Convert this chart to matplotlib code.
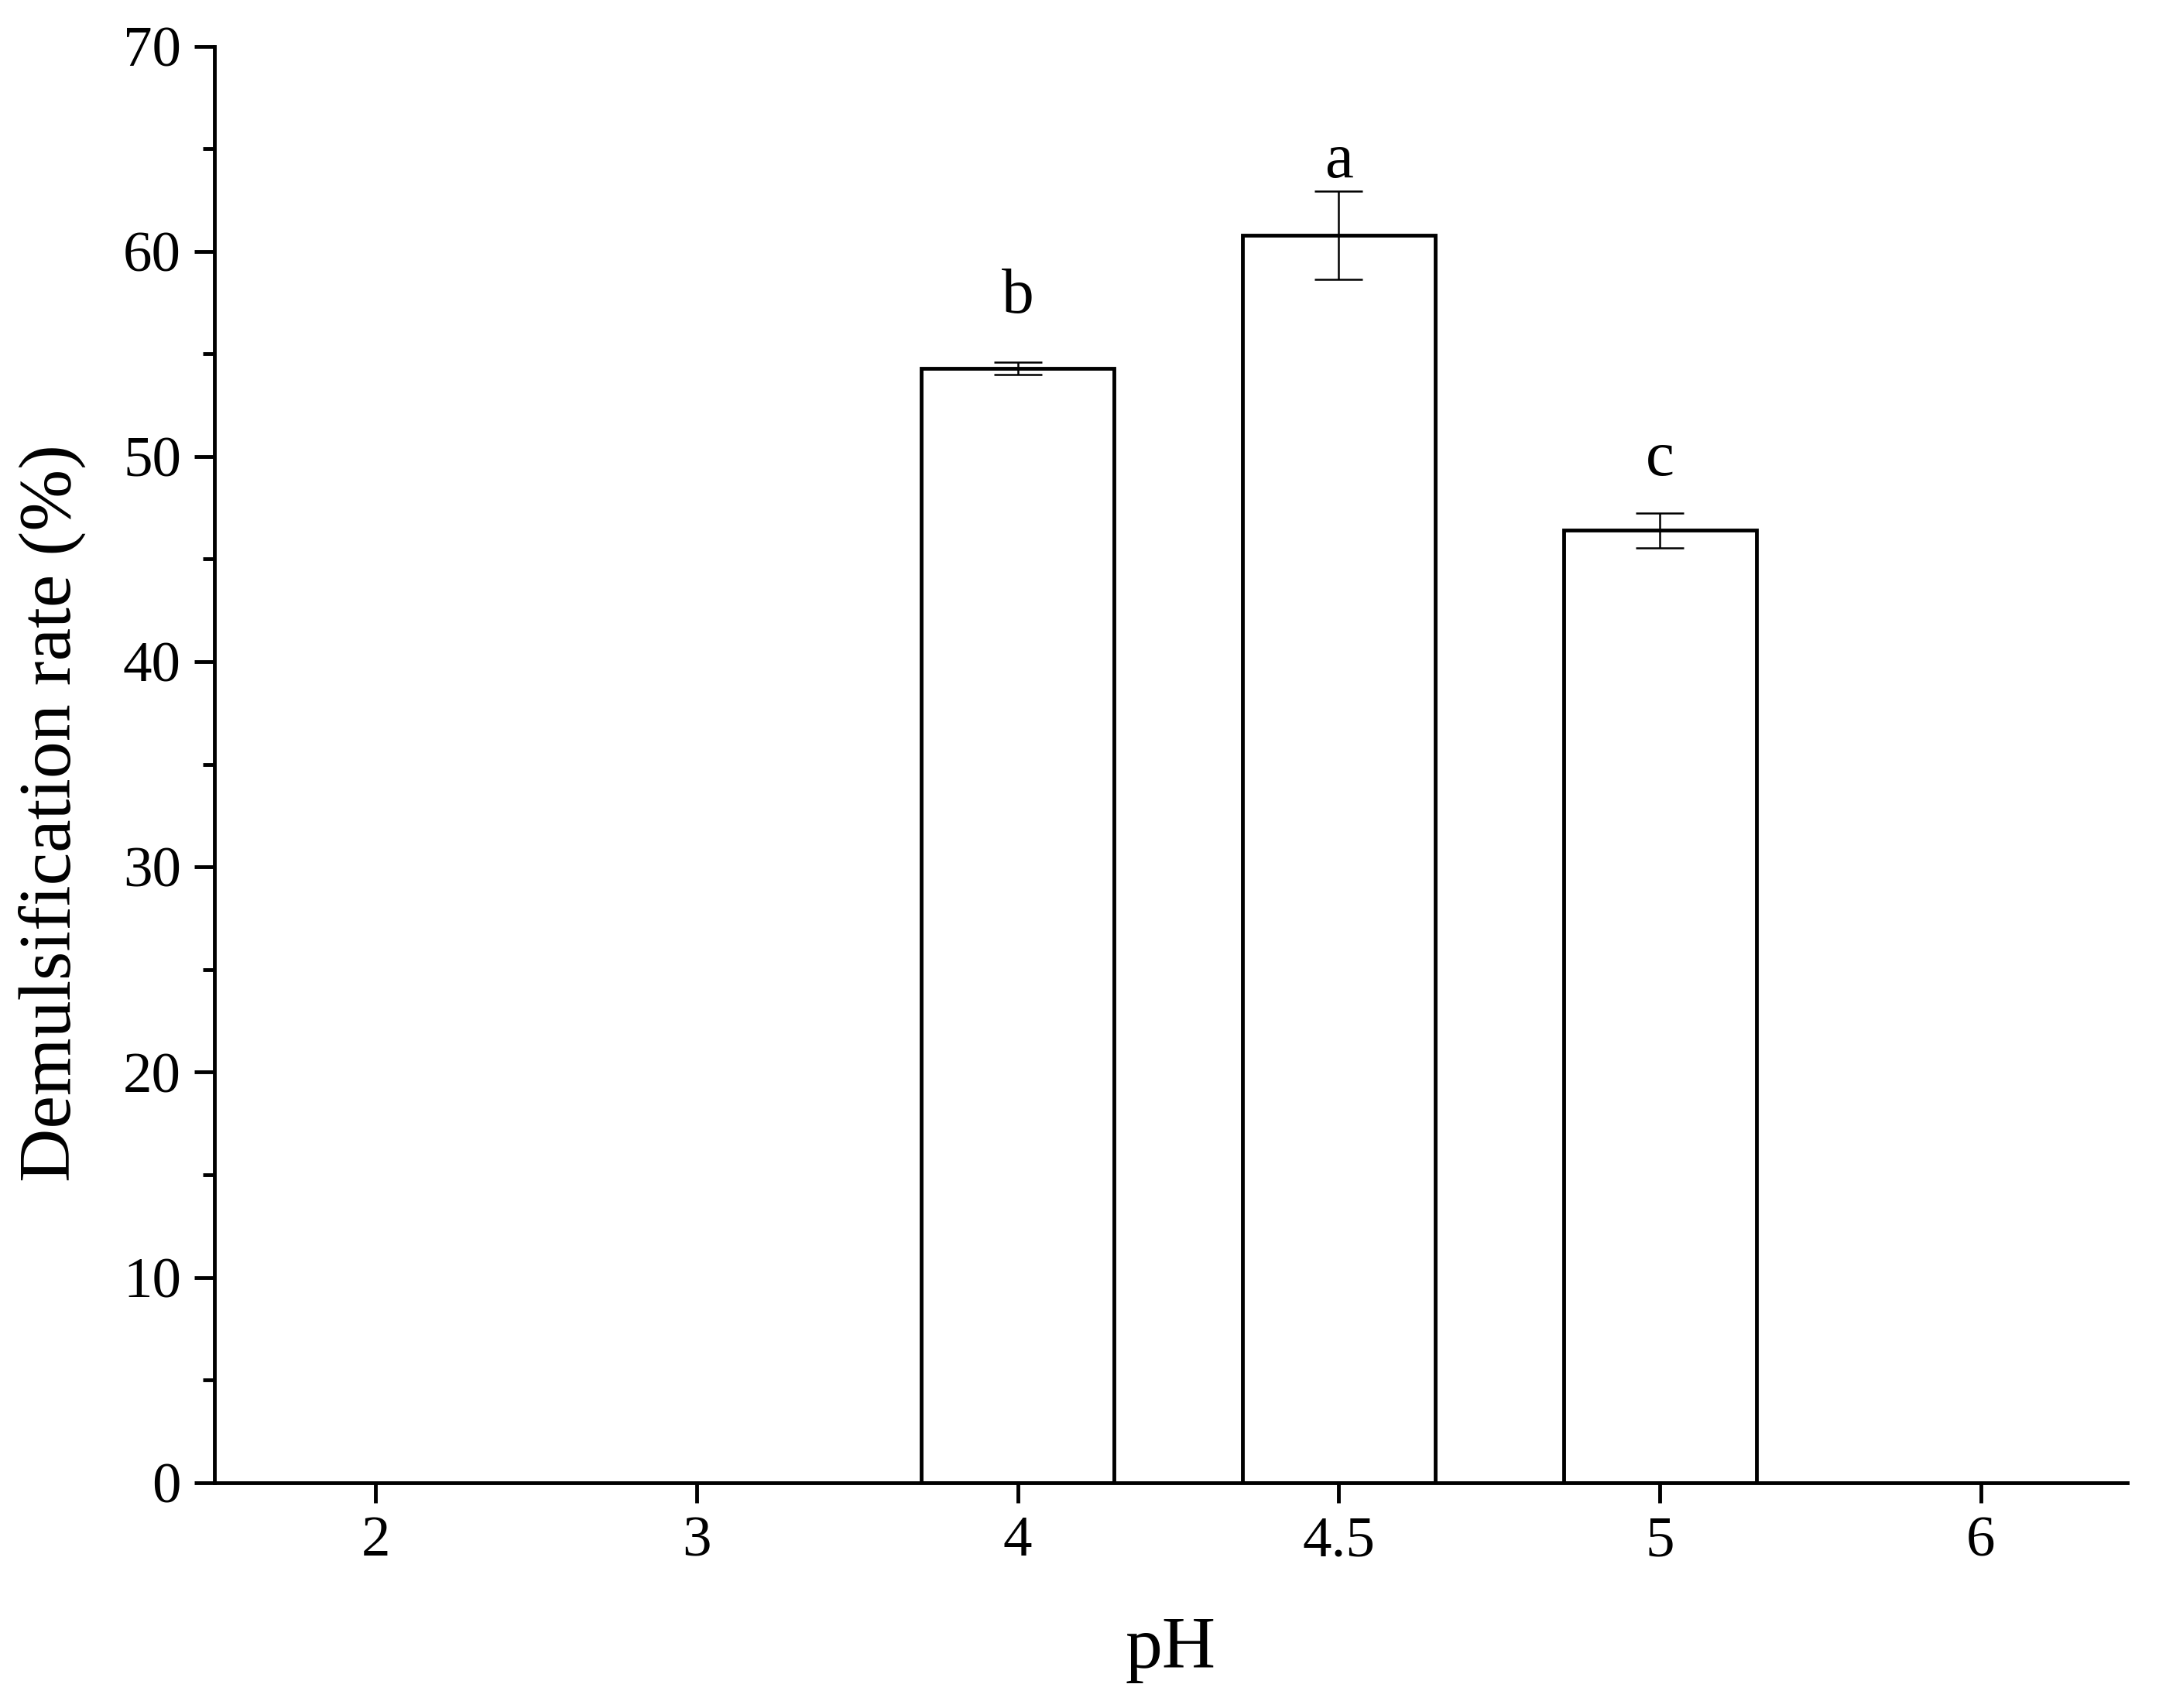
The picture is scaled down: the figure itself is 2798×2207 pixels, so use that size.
import matplotlib.pyplot as plt
from matplotlib.ticker import MultipleLocator

plt.rcParams['font.family'] = ['Liberation Serif', 'DejaVu Serif']

ph_labels = ['2', '3', '4', '4.5', '5', '6']
rate = [0, 0, 54.3, 60.8, 46.4, 0]
err = [0, 0, 0.3, 2.15, 0.85, 0]
letters = ['', '', 'b', 'a', 'c', '']
letter_y = [0, 0, 57.0, 63.6, 49.1, 0]

fig = plt.figure(figsize=(27.98, 22.07), dpi=100)
ax = fig.add_axes([0.099, 0.132, 0.883, 0.841])

x = list(range(len(ph_labels)))
shown = [i for i in x if rate[i] > 0]
ax.bar([x[i] for i in shown], [rate[i] for i in shown], width=0.6,
       color='white', edgecolor='black', linewidth=3.5, zorder=2)
ax.errorbar([x[i] for i in shown], [rate[i] for i in shown],
            yerr=[err[i] for i in shown], fmt='none', ecolor='black',
            elinewidth=1.8, capsize=22, capthick=1.8, zorder=3)

for i in shown:
    ax.text(x[i], letter_y[i], letters[i], ha='center', va='baseline',
            fontsize=60)

ax.set_xlim(-0.502, 5.455)
ax.set_ylim(0, 70)
ax.set_xticks(x)
ax.set_xticklabels(ph_labels)
ax.yaxis.set_major_locator(MultipleLocator(10))
ax.yaxis.set_minor_locator(MultipleLocator(5))

ax.spines['top'].set_visible(False)
ax.spines['right'].set_visible(False)
for s in ['left', 'bottom']:
    ax.spines[s].set_linewidth(3.5)

ax.tick_params(axis='both', which='major', direction='out', length=19,
               width=3.5, labelsize=54, pad=12)
ax.tick_params(axis='y', which='minor', direction='out', length=11, width=3.5)

ax.set_xlabel('pH', fontsize=69, labelpad=45)
ax.set_ylabel('Demulsification rate (%)', fontsize=69)
ax.yaxis.set_label_coords(-0.067, 0.466)

fig.savefig('out.png', dpi=100)
